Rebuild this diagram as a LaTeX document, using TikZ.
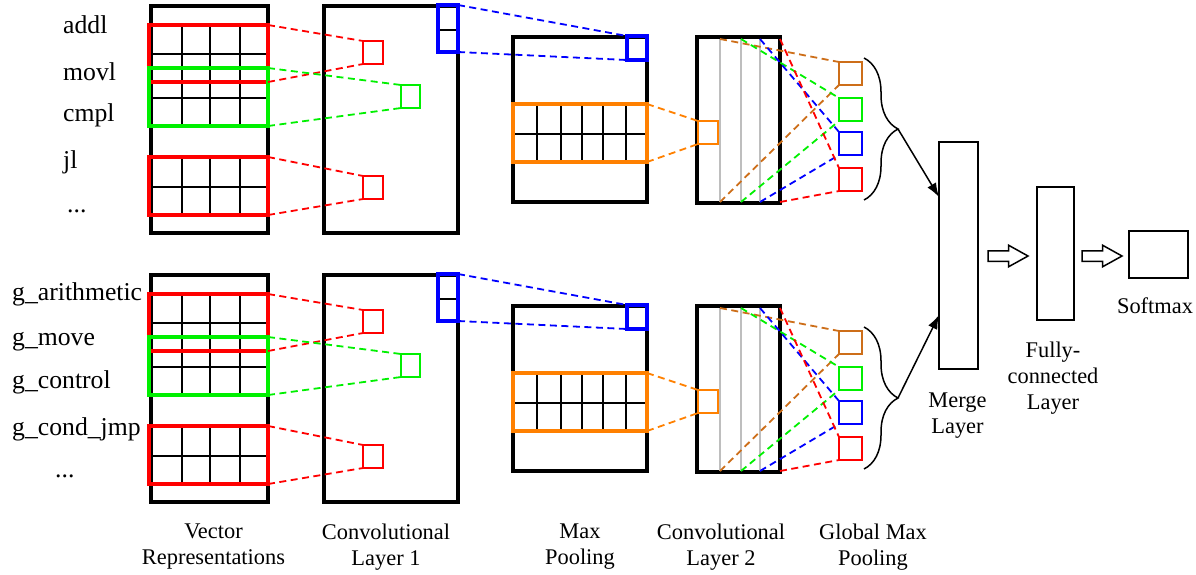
\documentclass[tikz,border=0pt]{standalone}
\usepackage{fontspec}
\setmainfont{Liberation Serif}
\usetikzlibrary{decorations.pathreplacing,arrows.meta,shapes.arrows}

\definecolor{cred}{RGB}{255,0,0}
\definecolor{cgreen}{RGB}{0,240,0}
\definecolor{cblue}{RGB}{0,0,255}
\definecolor{corange}{RGB}{255,128,0}
\definecolor{cbrown}{RGB}{205,110,25}
\definecolor{cgray}{RGB}{190,190,190}

\tikzset{
  layer/.style={draw=black, line width=3.5pt, inner sep=0pt, outer sep=0pt, anchor=north west},
  win/.style={draw=#1, line width=3.2pt, inner sep=0pt, outer sep=0pt, anchor=north west},
  unit/.style={draw=#1, line width=1.8pt, inner sep=0pt, outer sep=0pt, anchor=north west,
               minimum width=20pt, minimum height=23pt},
  cellline/.style={black, line width=1.6pt},
  column/.style={cgray, line width=2pt},
  link/.style={draw=#1, line width=1.8pt, dash pattern=on 7pt off 4.5pt},
  plain/.style={draw=black, line width=1.5pt, inner sep=0pt, outer sep=0pt, anchor=north west},
  flow/.style={single arrow, draw=black, line width=1.5pt, minimum height=40pt,
               inner xsep=0pt, inner ysep=4.5pt, single arrow head extend=5.5pt,
               single arrow tip angle=58, outer sep=0pt, anchor=tail},
  collect/.style={black, line width=1.5pt, decorate, decoration={brace, amplitude=34pt, aspect=0.5}},
  feed/.style={black, line width=1.5pt, -{Latex[length=14pt, width=10pt]}},
  caption/.style={font=\fontsize{22.4pt}{26pt}\selectfont, align=center, inner sep=0pt, anchor=north},
  token/.style={font=\fontsize{25.7pt}{30pt}\selectfont, inner sep=0pt, anchor=base west},
}

\begin{document}
\begin{tikzpicture}[x=1pt, y=-1pt]
\useasboundingbox (0,0) rectangle (1196,574);

\foreach \b/\dy in {t/0, b/269}{
  % vector representations with the cells under the windows
  \node[layer, minimum width=117pt, minimum height=227pt] (vr\b) at (151,{6+\dy}) {};
  \foreach \x in {182,210,240}{
    \draw[cellline] (\x,{25+\dy}) -- (\x,{126+\dy});
    \draw[cellline] (\x,{157+\dy}) -- (\x,{215+\dy});
  }
  \foreach \y in {54,98,187}
    \draw[cellline] (151,{\y+\dy}) -- (268,{\y+\dy});
  \node[win=cred,   minimum width=119pt, minimum height=57pt] (wa\b) at (149,{25+\dy}) {};
  \node[win=cgreen, minimum width=119pt, minimum height=58pt] (wb\b) at (149,{68+\dy}) {};
  \node[win=cred,   minimum width=119pt, minimum height=58pt] (wc\b) at (149,{157+\dy}) {};

  % convolutional layer 1
  \node[layer, minimum width=134pt, minimum height=227pt] (ca\b) at (324,{6+\dy}) {};
  \node[unit=cred] (ua\b) at (363,{41+\dy}) {};
  \node[unit=cgreen, minimum width=19pt] (ub\b) at (401,{85+\dy}) {};
  \node[unit=cred] (uc\b) at (363,{176+\dy}) {};
  \draw[cellline] (438,{30+\dy}) -- (458,{30+\dy});
  \node[win=cblue, line width=3.5pt, minimum width=20pt, minimum height=47pt] (fa\b) at (438,{5+\dy}) {};

  % max pooling
  \node[layer, minimum width=134pt, minimum height=165pt] (mp\b) at (513,{37+\dy}) {};
  \foreach \x in {537,561,582,603,626}
    \draw[cellline] (\x,{104+\dy}) -- (\x,{162+\dy});
  \draw[cellline] (513,{134+\dy}) -- (647,{134+\dy});
  \node[win=corange, minimum width=134pt, minimum height=58pt] (wo\b) at (513,{104+\dy}) {};
  \node[win=cblue, line width=3.5pt, minimum width=20pt, minimum height=24pt] (fb\b) at (627,{36+\dy}) {};

  % convolutional layer 2 and its feature columns
  \node[layer, minimum width=83pt, minimum height=166pt] (cb\b) at (697,{37+\dy}) {};
  \foreach \i/\x in {1/720, 2/741, 3/760, 4/780}{
    \coordinate (kt\i\b) at (\x,{39+\dy});
    \coordinate (kb\i\b) at (\x,{202+\dy});
  }
  \foreach \i in {1,2,3}
    \draw[column] (kt\i\b) -- (kb\i\b);
  \node[unit=corange] (uo\b) at (698,{121+\dy}) {};

  % global max pooling
  \node[unit=cbrown, minimum width=23pt] (g1\b) at (839,{62+\dy}) {};
  \node[unit=cgreen, minimum width=23pt] (g2\b) at (839,{98+\dy}) {};
  \node[unit=cblue,  minimum width=23pt] (g3\b) at (839,{132+\dy}) {};
  \node[unit=cred,   minimum width=23pt] (g4\b) at (839,{168+\dy}) {};

  % receptive fields
  \draw[link=cred]   (wa\b.north east) -- (ua\b.north west);
  \draw[link=cred]   (wa\b.south east) -- (ua\b.south west);
  \draw[link=cgreen] (wb\b.north east) -- (ub\b.north west);
  \draw[link=cgreen] (wb\b.south east) -- (ub\b.south west);
  \draw[link=cred]   (wc\b.north east) -- (uc\b.north west);
  \draw[link=cred]   (wc\b.south east) -- (uc\b.south west);
  \draw[link=cblue]  (fa\b.north east) -- (fb\b.north west);
  \draw[link=cblue]  (fa\b.south east) -- (fb\b.south west);
  \draw[link=corange] (wo\b.north east) -- (uo\b.north west);
  \draw[link=corange] (wo\b.south east) -- (uo\b.south west);
  \foreach \i/\c in {1/cbrown, 2/cgreen, 3/cblue, 4/cred}{
    \draw[link=\c] (kt\i\b) -- (g\i\b.north west);
    \draw[link=\c] (kb\i\b) -- (g\i\b.south west);
  }

  % brace gathering the pooled features
  \coordinate (bt\b) at (864,{58+\dy});
  \coordinate (bb\b) at (864,{200+\dy});
  \draw[collect] (bt\b) -- (bb\b);
  \coordinate (tip\b) at (898,{129+\dy});
}

% merge, dense and output layers
\node[plain, minimum width=39pt, minimum height=227pt] (merge) at (939,142) {};
\node[plain, minimum width=37pt, minimum height=133pt] (fc) at (1037,187) {};
\node[plain, minimum width=59pt, minimum height=47pt] (smx) at (1129,231) {};
\coordinate (mt) at (939,197);
\coordinate (mb) at (939,315);
\draw[feed] (tipt) -- (mt);
\draw[feed] (tipb) -- (mb);
\node[flow] (fl1) at (988,256) {};
\node[flow] (fl2) at (1082,256) {};

% instruction tokens
\node[token] (i1) at (63,33) {addl};
\node[token] (i2) at (63,80) {movl};
\node[token] (i3) at (63,121) {cmpl};
\node[token] (i4) at (63,168) {jl};
\node[token] (i5) at (67,212) {...};
\node[token] (j1) at (12,300) {g\_arithmetic};
\node[token] (j2) at (12,345) {g\_move};
\node[token] (j3) at (12,388) {g\_control};
\node[token] (j4) at (12,435) {g\_cond\_jmp};
\node[token] (j5) at (55,477) {...};

% layer captions
\node[caption] (l1) at (213.5,524) {Vector\\Representations};
\node[caption] (l2) at (386,524) {Convolutional\\Layer 1};
\node[caption] (l3) at (580,524) {Max\\Pooling};
\node[caption] (l4) at (721,524) {Convolutional\\Layer 2};
\node[caption] (l5) at (873,524) {Global Max\\Pooling};
\node[caption] (l6) at (957.5,393) {Merge\\Layer};
\node[caption] (l7) at (1053,342) {Fully-\\connected\\Layer};
\node[caption, anchor=base] (l8) at (1155,313) {Softmax};
\end{tikzpicture}
\end{document}
